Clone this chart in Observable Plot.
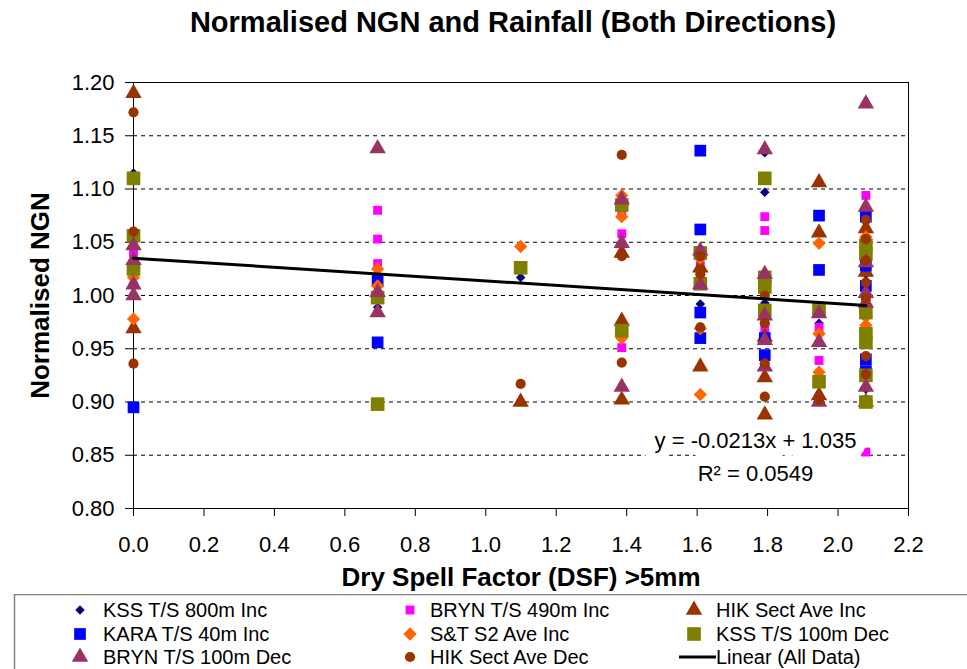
<!DOCTYPE html>
<html><head><meta charset="utf-8">
<script src="https://cdn.jsdelivr.net/npm/d3@7"></script>
<script src="https://cdn.jsdelivr.net/npm/@observablehq/plot@0.6"></script>
<style>
body{margin:0;background:#fff;font-family:"Liberation Sans",Arial,sans-serif;}
#wrap{position:relative;width:967px;height:669px;overflow:hidden;background:#fff;}
#title{position:absolute;top:6px;left:0;width:967px;padding-left:59px;box-sizing:border-box;text-align:center;font-weight:bold;font-size:29px;line-height:33px;color:#000;}
#chart{position:absolute;top:50px;left:0;}
#legend{position:absolute;top:594px;left:0;}
</style></head><body>
<div id="wrap">
<div id="title">Normalised NGN and Rainfall (Both Directions)</div>
<div id="chart"></div>
<svg id="legend" width="967" height="75"></svg>
</div>
<script>
// Dry Spell Factor columns (x values)
const dsf = [0, 0.693, 1.099, 1.386, 1.609, 1.792, 1.946, 2.079];
// Normalised NGN values per series, grouped by DSF column index
const kss800Inc = [[1.115,1.012],[0.989],[1.017],[],[0.992],[1.134,1.097,0.993],[0.974],[1.02,0.96,0.912]];
const bryn490Inc = [[1.04,1.02],[1.08,1.053,1.03],[],[1.077,1.058,0.951],[1.028],[1.074,1.061,0.968],[0.97,0.939],[1.094,0.853]];
const hikInc = [[1.19,0.969],[],[0.90],[1.04,0.976,0.902],[1.026,0.933],[0.961,0.923,0.888],[1.106,1.059,0.906],[1.063,1.022,0.90]];
const karaInc = [[0.895],[1.014,0.956],[],[],[1.136,1.062,0.984,0.96],[0.96,0.944],[1.075,1.024],[1.074,1.028,1.009,0.94,0.929]];
const stInc = [[1.017,0.978],[1.025,1.009],[1.046],[1.094,1.074,0.96],[1.035,0.969,0.907],[1.005],[1.049,0.964,0.928],[1.055,0.98,0.972]];
const kss100Dec = [[1.11,1.056,1.025],[0.998,0.898],[1.026],[1.085,0.967],[1.04,1.011],[1.11,1.017,1.008,0.986],[0.987,0.919],[1.047,1.039,0.984,0.964,0.956,0.925,0.90]];
const bryn100Dec = [[1.047,1.033,1.01,1.0],[1.138,1.003,0.984],[],[1.09,1.049,0.914],[1.042,1.01],[1.137,1.02,0.981,0.958,0.933],[0.983,0.956,0.90],[1.18,1.083,1.031,1.002,0.993,0.914]];
const hikDec = [[1.172,1.06,0.936],[],[0.917],[1.132,1.037,0.937],[1.037,1.02,0.97],[1.0,0.974,0.936,0.905],[0.902],[1.071,1.053,1.033,1.012,0.997,0.943,0.926]];
// Linear trend (All Data): y = -0.0213x + 1.035, drawn over the data's x range
const trendX = [0, 2.079];
const trendY = [1.035, 0.9907];
const equationText = "y = -0.0213x + 1.035\nR² = 0.0549";
// Ticks
const xTicks = [0, 0.2, 0.4, 0.6, 0.8, 1.0, 1.2, 1.4, 1.6, 1.8, 2.0, 2.2];
const yTicks = [0.80, 0.85, 0.90, 0.95, 1.00, 1.05, 1.10, 1.15, 1.20];
const gridY = [0.85, 0.90, 0.95, 1.00, 1.05, 1.10, 1.15];
// Series names (legend order)
const seriesNames = ["KSS T/S 800m Inc","BRYN T/S 490m Inc","HIK Sect Ave Inc","KARA T/S 40m Inc","S&T S2 Ave Inc","KSS T/S 100m Dec","BRYN T/S 100m Dec","HIK Sect Ave Dec"];
const seriesValues = [kss800Inc, bryn490Inc, hikInc, karaInc, stInc, kss100Dec, bryn100Dec, hikDec];
// Styles
const seriesColors = ["#000080","#FF00FF","#993300","#0000FF","#FF6600","#808000","#993366","#993300"];
const seriesSymbols = ["diamond2","square","triangle","square","diamond2","square","triangle","circle"];
const seriesR = [4.3, 5.0, 6.1, 6.6, 6.0, 7.7, 6.1, 5.1];

const points = seriesValues.map((vals, si) => {
  const arr = [];
  vals.forEach((col, ci) => col.forEach(v => arr.push({series: seriesNames[si], x: dsf[ci], y: v})));
  return arr;
});

const dotMarks = points.map((pts, si) => Plot.dot(pts, {
  x: "x", y: "y", symbol: seriesSymbols[si], fill: seriesColors[si], r: seriesR[si], stroke: "none"
}));

const chart = Plot.plot({
  width: 967, height: 540,
  marginLeft: 133, marginRight: 59, marginTop: 32, marginBottom: 82,
  x: {domain: [0, 2.2]},
  y: {domain: [0.8, 1.2]},
  style: {fontFamily: "'Liberation Sans', Arial, sans-serif", fontSize: "22px", color: "#000", background: "#fff", overflow: "visible"},
  marks: [
    Plot.ruleY(gridY, {stroke: "#000", strokeDasharray: "4,4", strokeWidth: 1}),
    Plot.frame({stroke: "#000", strokeWidth: 1}),
    Plot.axisX({ticks: xTicks, tickFormat: d3.format(".1f"), tickSize: 8, tickPadding: 20, label: null, fontSize: 22}),
    Plot.axisY({ticks: yTicks, tickFormat: d3.format(".2f"), tickSize: 8, tickPadding: 11, label: null, fontSize: 22}),
    ...dotMarks,
    Plot.line({length: 2}, {x: trendX, y: trendY, stroke: "#000", strokeWidth: 3}),
    Plot.text([equationText], {frameAnchor: "bottom-right", dx: -153, dy: -55, textAnchor: "middle", lineAnchor: "middle", lineHeight: 1.5, fontSize: 22, fill: "#000", stroke: "#fff", strokeWidth: 20, paintOrder: "stroke"}),
    Plot.text(["Normalised NGN"], {frameAnchor: "left", dx: -93, rotate: -90, textAnchor: "middle", lineAnchor: "middle", fontWeight: "bold", fontSize: 26, fill: "#000"}),
    Plot.text(["Dry Spell Factor (DSF) >5mm"], {frameAnchor: "bottom", dy: 69, textAnchor: "middle", lineAnchor: "middle", fontWeight: "bold", fontSize: 26, fill: "#000"})
  ]
});
document.getElementById("chart").appendChild(chart);

// Legend
const symMap = {diamond2: d3.symbolDiamond2, square: d3.symbolSquare, triangle: d3.symbolTriangle, circle: d3.symbolCircle};
const leg = d3.select("#legend");
leg.append("rect").attr("x", 14.5).attr("y", 0.5).attr("width", 1000).attr("height", 100)
  .attr("fill", "#fff").attr("stroke", "#808080").attr("stroke-width", 1.5);
const colMarkX = [80, 410, 694];
const colTextX = [103, 430, 716];
const rowY = [16, 40, 63];
const legendItems = seriesNames.map((n, i) => ({name: n, i})).concat([{name: "Linear (All Data)", i: -1}]);
legendItems.forEach((item, k) => {
  const c = k % 3, r = Math.floor(k / 3);
  const g = leg.append("g");
  if (item.i >= 0) {
    const rr = seriesR[item.i];
    g.append("path")
      .attr("d", d3.symbol().type(symMap[seriesSymbols[item.i]]).size(Math.PI * rr * rr)())
      .attr("transform", `translate(${colMarkX[c]},${rowY[r]})`)
      .attr("fill", seriesColors[item.i]);
  } else {
    g.append("line").attr("x1", colTextX[c] - 37).attr("x2", colTextX[c]).attr("y1", rowY[r]).attr("y2", rowY[r])
      .attr("stroke", "#000").attr("stroke-width", 3);
  }
  g.append("text").attr("x", colTextX[c]).attr("y", rowY[r]).attr("dy", "0.36em")
    .attr("font-family", "'Liberation Sans', Arial, sans-serif").attr("font-size", 20).attr("fill", "#000")
    .text(item.name);
});
</script>
</body></html>
